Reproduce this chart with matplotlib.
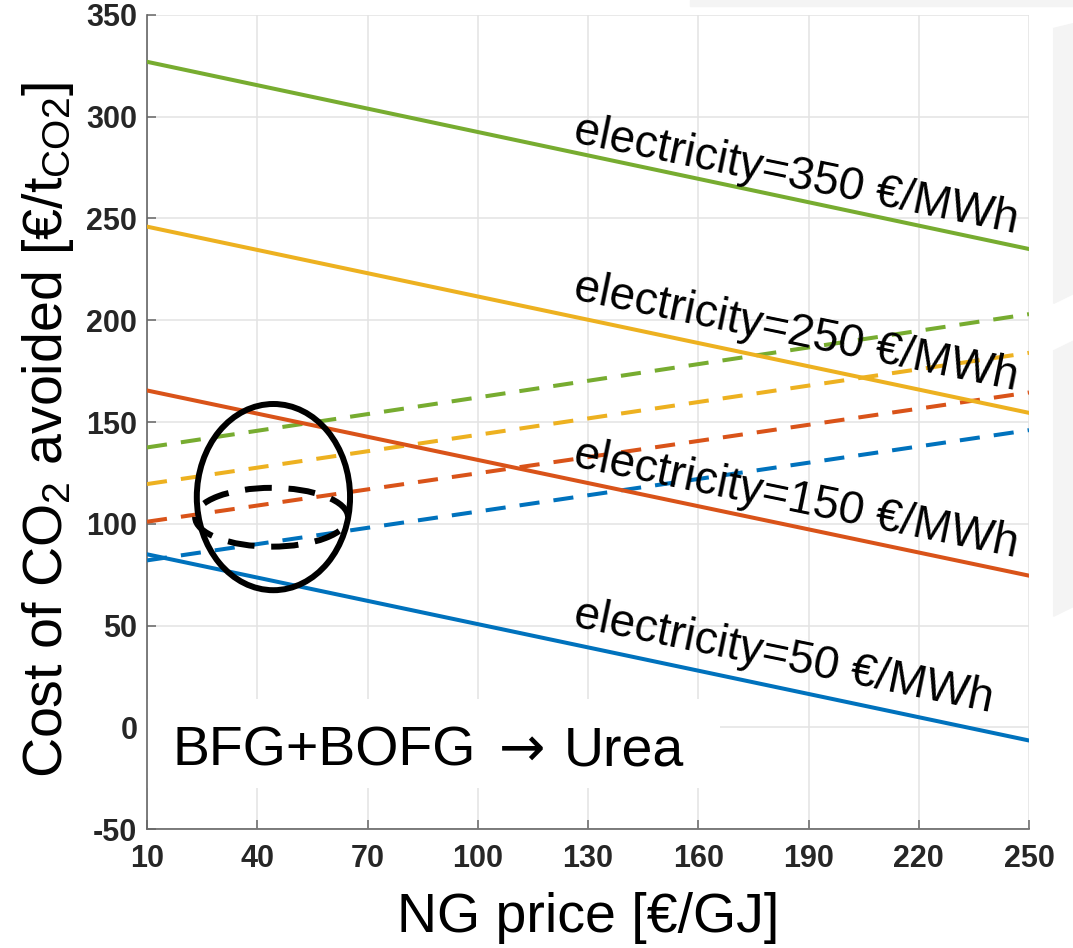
import matplotlib
matplotlib.use("Agg")
import matplotlib.pyplot as plt
from matplotlib.patches import Ellipse, Rectangle, Polygon

plt.rcParams['font.family'] = ['Liberation Sans', 'DejaVu Sans']
plt.rcParams['mathtext.fontset'] = 'custom'
plt.rcParams['mathtext.rm'] = 'Liberation Sans'
plt.rcParams['mathtext.it'] = 'Liberation Sans:italic'
plt.rcParams['axes.unicode_minus'] = False

# NG price [€/GJ]
ng_price = [10, 250]

# solid lines (one per electricity price)
elec_prices = [50, 150, 250, 350]
solid_vals = {
    50: [85.0, -6.5],
    150: [165.5, 74.5],
    250: [246.0, 154.5],
    350: [327.0, 235.0],
}
# dashed lines
dashed_vals = {
    50: [82.0, 146.0],
    150: [101.0, 164.5],
    250: [119.5, 184.0],
    350: [137.5, 203.0],
}
colors = {50: '#0072BD', 150: '#D95319', 250: '#EDB120', 350: '#77AC30'}

# label anchors (x, y) and angle
label_pos = {350: (125.7, 287.7), 250: (125.7, 210.3), 150: (125.7, 128.4), 50: (125.7, 49.5)}
label_rot = -11.6

xticks = [10, 40, 70, 100, 130, 160, 190, 220, 250]
yticks = [-50, 0, 50, 100, 150, 200, 250, 300, 350]

fig = plt.figure(figsize=(10.73, 9.48), dpi=100)

# faint slide background shapes
fig.patches.append(Rectangle((0.643, 0.994), 0.36, 0.006, transform=fig.transFigure,
                             color='#f4f4f4', zorder=0))
fig.patches.append(Polygon([(0.982, 0.97), (1.0, 0.975), (1.0, 0.69), (0.982, 0.68)],
                           closed=True, transform=fig.transFigure, color='#f4f4f4', zorder=0))
fig.patches.append(Polygon([(0.982, 0.63), (1.0, 0.64), (1.0, 0.36), (0.982, 0.35)],
                           closed=True, transform=fig.transFigure, color='#f4f4f4', zorder=0))

ax = fig.add_axes([0.137, 0.1255, 0.822, 0.8587])

for e in elec_prices:
    ax.plot(ng_price, dashed_vals[e], color=colors[e], lw=2.9,
            linestyle=(0, (5, 3.5)), zorder=3)
for e in elec_prices:
    ax.plot(ng_price, solid_vals[e], color=colors[e], lw=2.9, zorder=4)
    x0, y0 = label_pos[e]
    ax.text(x0, y0, 'electricity=%d €/MWh' % e, fontsize=33, rotation=label_rot,
            rotation_mode='anchor', ha='left', va='baseline', color='black', zorder=6)

ax.add_patch(Ellipse((44.4, 113.1), 41.7, 91.5, fill=False, ec='black', lw=4.3, zorder=7))
ax.add_patch(Ellipse((43.9, 103.2), 41.6, 28.9, fill=False, ec='black', lw=4.3,
                     linestyle=(0, (4.5, 2.8)), zorder=7))

# process label in a white box
ax.add_patch(Rectangle((10, -30), 156, 44, facecolor='white', edgecolor='none', zorder=2))
ax.text(17, -19, 'BFG+BOFG', fontsize=40, ha='left', va='baseline', zorder=6)
ax.text(112, -19, '→', fontsize=40, family='DejaVu Sans', ha='center', va='baseline', zorder=6)
ax.text(123.5, -19, 'Urea', fontsize=40, ha='left', va='baseline', zorder=6)

ax.set_xlim(10, 250)
ax.set_ylim(-50, 350)
ax.set_xticks(xticks)
ax.set_yticks(yticks)
ax.grid(True, color='#e3e3e3', lw=1.1, zorder=0)
ax.set_axisbelow(True)
for s in ['top', 'right']:
    ax.spines[s].set_visible(False)
for s in ['left', 'bottom']:
    ax.spines[s].set_color('#666666')
    ax.spines[s].set_linewidth(1.2)
ax.tick_params(direction='in', length=6.5, width=1.1, color='#666666',
               labelsize=22, labelcolor='#262626', pad=7)
ax.tick_params(axis='x', pad=11)
for lab in ax.get_xticklabels() + ax.get_yticklabels():
    lab.set_fontweight('bold')

ax.set_xlabel('NG price [€/GJ]', fontsize=40, labelpad=13)
ax.set_ylabel('Cost of CO$_2$ avoided [€/t$_{\\mathrm{CO2}}$]', fontsize=40, labelpad=6)
ax.yaxis.set_label_coords(-0.08, 0.49)

fig.savefig('out.png', dpi=100, facecolor='white')
